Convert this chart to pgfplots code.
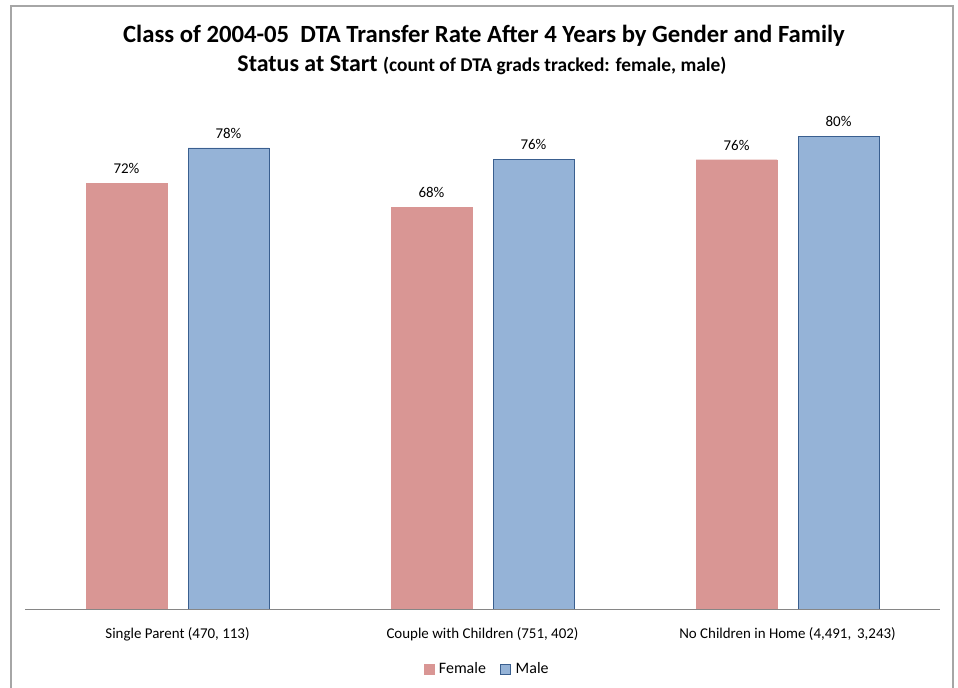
\documentclass[border=0pt]{standalone}
\usepackage{pgfplots}
\pgfplotsset{compat=1.18}
\usepackage{fontspec}
\setmainfont{Carlito}
\definecolor{fem}{HTML}{D99694}
\definecolor{mal}{HTML}{95B3D7}
\definecolor{malb}{HTML}{3A5F8F}
\definecolor{frame}{HTML}{A6A6A6}
\definecolor{axl}{HTML}{868686}
\begin{document}
\begin{tikzpicture}[x=1bp,y=1bp]
\path[use as bounding box] (0,0) rectangle (958,688);
\draw[color=frame, line width=1.3bp] (11,-5) -- (11,682) -- (953,682) -- (953,-5);
\node[font=\bfseries\fontsize{24.8}{28}\selectfont] at (484,652) {Class of 2004-05 \ DTA Transfer Rate After 4 Years by Gender and Family};
\node[font=\bfseries\fontsize{24}{28}\selectfont] at (482,623) {Status at Start {\fontsize{19.5}{22}\selectfont (count of DTA grads tracked: female, male)}};
\begin{axis}[
  at={(25bp,79bp)}, anchor=south west,
  scale only axis, width=915bp, height=532bp,
  xmin=-0.5, xmax=2.5, ymin=0, ymax=90,
  axis x line=bottom, axis y line=none,
  x axis line style={-, color=axl, line width=0.8bp},
  xtick={0,1,2}, major tick length=0pt,
  xticklabels={{Single Parent (470, 113)}, {Couple with Children (751, 402)}, {No Children in Home (4,491, \,3,243)}},
  xticklabel style={font=\fontsize{15}{17}\selectfont, yshift=-15bp},
  /pgf/number format/assume math mode=true,
  ybar, bar width=81bp,
  nodes near coords={\pgfmathprintnumber{\pgfplotspointmeta}\%},
  every node near coord/.append style={font=\fontsize{15}{17}\selectfont, yshift=6bp},
  legend style={at={(0.505,-0.1128)}, anchor=center, draw=none, legend columns=2,
    font=\fontsize{16}{18}\selectfont, /tikz/every even column/.append style={column sep=12bp},
    /tikz/every odd column/.append style={column sep=0bp}},
  legend image code/.code={\draw[#1] (0bp,-5bp) rectangle (10bp,5bp);},
  legend cell align=left,
]
\addplot[fill=fem, draw=fem, bar shift=-51bp] coordinates {(0,72) (1,68) (2,76)};
\addplot[fill=mal, draw=malb, line width=0.8bp, bar shift=51bp] coordinates {(0,78) (1,76) (2,80)};
\legend{\hspace{3bp}Female, \hspace{3bp}Male}
\end{axis}
\end{tikzpicture}
\end{document}
